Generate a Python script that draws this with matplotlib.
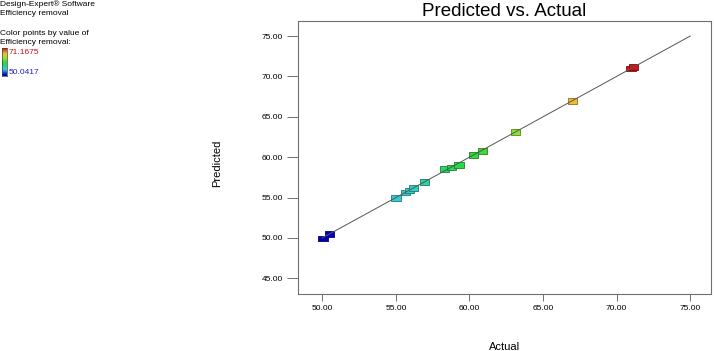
import matplotlib as mpl

mpl.use('Agg')
import matplotlib.pyplot as plt
import numpy as np
from matplotlib.colors import LinearSegmentedColormap, Normalize
from matplotlib.path import Path

plt.rcParams['font.family'] = ['Liberation Sans', 'DejaVu Sans']

# design points
actual = [50.04, 50.50, 55.00, 55.64, 55.90, 56.20, 56.95, 58.30, 58.76,
          59.29, 60.28, 60.89, 63.13, 66.98, 70.97, 71.17]
predicted = [49.95, 50.52, 54.98, 55.64, 55.85, 56.17, 56.92, 58.55, 58.74,
             59.00, 60.30, 60.80, 63.15, 66.95, 71.00, 71.19]
cmin, cmax = 50.0417, 71.1675
xticks = [50, 55, 60, 65, 70, 75]
yticks = [45, 50, 55, 60, 65, 70, 75]

cmap = LinearSegmentedColormap.from_list('de', [
    (0.0, (0.0, 0.0, 0.7)),
    (0.05, (0.0, 0.05, 0.8)),
    (0.23, (0.2, 0.8, 0.85)),
    (0.3, (0.2, 0.8, 0.75)),
    (0.41, (0.15, 0.85, 0.33)),
    (0.5, (0.2, 0.85, 0.22)),
    (0.62, (0.55, 0.88, 0.2)),
    (0.8, (0.93, 0.75, 0.2)),
    (1.0, (0.82, 0.08, 0.08))])
norm = Normalize(cmin, cmax)

fig = plt.figure(figsize=(7.14, 3.51), dpi=100)
ax = fig.add_axes([0.4174, 0.1615, 0.9958 - 0.4174, 0.9393 - 0.1615])

rect = Path([(-1, -0.61), (1, -0.61), (1, 0.61), (-1, 0.61), (-1, -0.61)],
            [Path.MOVETO, Path.LINETO, Path.LINETO, Path.LINETO, Path.CLOSEPOLY])
face = cmap(norm(np.array(actual)))
edge = face.copy()
edge[:, :3] *= 0.6
ax.scatter(actual, predicted, s=44, marker=rect, c=face, edgecolors=edge,
           linewidths=0.6, zorder=2)
ax.plot([50, 75], [50, 75], color='#555555', lw=0.7, zorder=3)

ax.set_xlim(48.35, 76.41)
ax.set_ylim(43.02, 76.82)
ax.set_xticks(xticks)
ax.set_yticks(yticks)
ax.set_xticklabels(['%.2f' % v for v in xticks], fontsize=6)
ax.set_yticklabels(['%.2f' % v for v in yticks], fontsize=6)
ax.tick_params(axis='x', direction='out', length=5, width=0.7, pad=3, color='#707070')
ax.tick_params(axis='y', direction='out', length=8, width=0.7, pad=3, color='#707070')
for s in ax.spines.values():
    s.set_color('#707070')
    s.set_linewidth(0.8)

fig.text(504.5 / 714, 1 - 12 / 351, 'Predicted vs. Actual', fontsize=13.5,
         ha='center', va='center')
fig.text(505 / 714, 1 - 346.5 / 351, 'Actual', fontsize=8, ha='center', va='center')
fig.text(217 / 714, 1 - 163 / 351, 'Predicted', fontsize=8, ha='center',
         va='center', rotation=90)

# side notes with the little colour bar
fig.text(0.0, 1 - 4.5 / 351, 'Design-Expert\u00ae Software', fontsize=6, va='center')
fig.text(0.0, 1 - 13.5 / 351, 'Efficiency removal', fontsize=6, va='center')
fig.text(0.0, 1 - 33.5 / 351, 'Color points by value of', fontsize=6, va='center')
fig.text(0.0, 1 - 43 / 351, 'Efficiency removal:', fontsize=6, va='center')
fig.text(9 / 714, 1 - 52.5 / 351, '%.4f' % cmax, fontsize=6, va='center', color='#d01010')
fig.text(9 / 714, 1 - 72.5 / 351, '%.4f' % cmin, fontsize=6, va='center', color='#2020c0')

cax = fig.add_axes([2 / 714, 1 - 76 / 351, 5 / 714, 28 / 351])
grad = np.linspace(0, 1, 100).reshape(-1, 1)
cax.imshow(grad, cmap=cmap, aspect='auto', origin='lower')
cax.set_xticks([])
cax.set_yticks([])
for s in cax.spines.values():
    s.set_linewidth(0.5)
    s.set_color('#404040')

fig.savefig('out.png', dpi=100)
